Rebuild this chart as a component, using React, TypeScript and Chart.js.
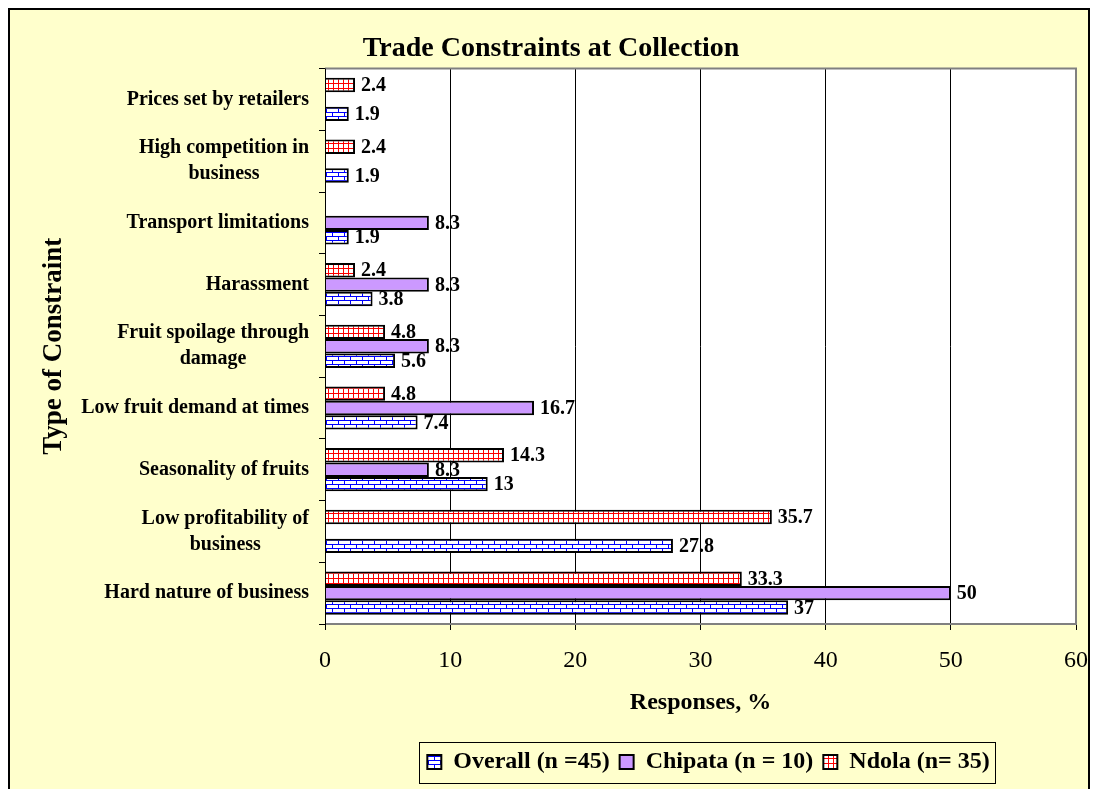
import React, { useEffect, useRef } from 'react';
import { Chart, registerables } from 'chart.js';

Chart.register(...registerables);

const TITLE = 'Trade Constraints at Collection';
const X_TITLE = 'Responses, %';
const Y_TITLE = 'Type of Constraint';

const categories: string[][] = [
  ['Prices set by retailers'],
  ['High competition in', 'business'],
  ['Transport limitations'],
  ['Harassment'],
  ['Fruit spoilage through', 'damage'],
  ['Low fruit demand at times'],
  ['Seasonality of fruits'],
  ['Low profitability of', 'business'],
  ['Hard nature of business'],
];

const overallValues = [1.9, 1.9, 1.9, 3.8, 5.6, 7.4, 13, 27.8, 37];
const chipataValues = [null, null, 8.3, 8.3, 8.3, 16.7, 8.3, null, 50];
const ndolaValues = [2.4, 2.4, null, 2.4, 4.8, 4.8, 14.3, 35.7, 33.3];

const seriesNames = ['Ndola (n= 35)', 'Chipata (n = 10)', 'Overall (n =45)'];

const X_MIN = 0;
const X_MAX = 60;
const X_STEP = 10;

const FONT = "'Liberation Serif', 'Times New Roman', serif";

function makePattern(kind: 'grid' | 'brick'): CanvasPattern | string {
  const c = document.createElement('canvas');
  const g = c.getContext('2d');
  if (!g) return '#fff';
  if (kind === 'grid') {
    c.width = 5;
    c.height = 5;
    g.fillStyle = '#ffffff';
    g.fillRect(0, 0, 5, 5);
    g.fillStyle = '#ff0000';
    g.fillRect(0, 0, 5, 1);
    g.fillRect(0, 0, 1, 5);
  } else {
    c.width = 12;
    c.height = 8;
    g.fillStyle = '#ffffff';
    g.fillRect(0, 0, 12, 8);
    g.fillStyle = '#0000ff';
    g.fillRect(0, 0, 12, 1);
    g.fillRect(0, 4, 12, 1);
    g.fillRect(0, 0, 1, 4);
    g.fillRect(6, 4, 1, 4);
  }
  const p = g.createPattern(c, 'repeat');
  return p || '#fff';
}

const framePlugin = {
  id: 'framePlugin',
  afterLayout(chart: any) {
    const lg = chart.legend;
    if (lg) {
      lg.left += 8;
      lg.right += 8;
    }
    const tb = chart.titleBlock;
    if (tb) {
      tb.left += 9;
      tb.right += 9;
    }
  },
  beforeDraw(chart: any) {
    const { ctx, width, height, chartArea } = chart;
    ctx.save();
    ctx.fillStyle = '#FFFFCC';
    ctx.fillRect(0, 0, width, height);
    ctx.strokeStyle = '#000';
    ctx.lineWidth = 2;
    ctx.beginPath();
    ctx.moveTo(1, height + 2);
    ctx.lineTo(1, 1);
    ctx.lineTo(width - 1, 1);
    ctx.lineTo(width - 1, height + 2);
    ctx.stroke();
    ctx.fillStyle = '#ffffff';
    ctx.fillRect(chartArea.left, chartArea.top, chartArea.right - chartArea.left, chartArea.bottom - chartArea.top);
    ctx.restore();
  },
  afterDatasetsDraw(chart: any) {
    const { ctx } = chart;
    ctx.save();
    ctx.font = `bold 20px ${FONT}`;
    ctx.fillStyle = '#000';
    ctx.textAlign = 'left';
    ctx.textBaseline = 'middle';
    chart.data.datasets.forEach((ds: any, di: number) => {
      const meta = chart.getDatasetMeta(di);
      meta.data.forEach((el: any, i: number) => {
        const v = ds.data[i];
        if (v === null || v === undefined) return;
        ctx.fillText(String(v), el.x + 6, el.y + 1);
      });
    });
    ctx.restore();
  },
  afterDraw(chart: any) {
    const { ctx, chartArea } = chart;
    ctx.save();
    // plot border
    ctx.strokeStyle = '#808080';
    ctx.lineWidth = 2;
    ctx.beginPath();
    ctx.moveTo(chartArea.left, chartArea.top);
    ctx.lineTo(chartArea.right, chartArea.top);
    ctx.lineTo(chartArea.right, chartArea.bottom);
    ctx.lineTo(chartArea.left, chartArea.bottom);
    ctx.stroke();
    ctx.strokeStyle = '#000';
    ctx.lineWidth = 1;
    ctx.beginPath();
    ctx.moveTo(chartArea.left + 0.5, chartArea.top);
    ctx.lineTo(chartArea.left + 0.5, chartArea.bottom + 1);
    ctx.stroke();

    // y tick labels: block right-aligned, lines centered
    const yScale = chart.scales.y;
    ctx.font = `bold 20px ${FONT}`;
    ctx.fillStyle = '#000';
    ctx.textBaseline = 'middle';
    ctx.textAlign = 'center';
    const rightEdge = chartArea.left - 16;
    const lh = 26;
    categories.forEach((lines, i) => {
      const cy = yScale.getPixelForValue(i);
      const w = Math.max(...lines.map((l) => ctx.measureText(l).width));
      const cx = rightEdge - w / 2;
      lines.forEach((l, j) => {
        ctx.fillText(l, cx, cy + (j - (lines.length - 1) / 2) * lh);
      });
    });

    // legend frame
    const legend = chart.legend;
    if (legend && legend.legendHitBoxes && legend.legendHitBoxes.length) {
      const hb = legend.legendHitBoxes;
      const l = Math.min(...hb.map((h: any) => h.left)) - 8;
      const r = Math.max(...hb.map((h: any) => h.left + h.width)) + 6;
      const cy = hb[0].top + hb[0].height / 2;
      ctx.strokeStyle = '#000';
      ctx.lineWidth = 1;
      ctx.strokeRect(Math.round(l) + 0.5, Math.round(cy - 20) + 0.5, Math.round(r - l), 41);
    }
    ctx.restore();
  },
};

export default function App() {
  const ref = useRef<HTMLCanvasElement | null>(null);

  useEffect(() => {
    document.body.style.margin = '0';
    document.body.style.overflow = 'hidden';
    const canvas = ref.current;
    if (!canvas) return;
    const redGrid = makePattern('grid');
    const blueBrick = makePattern('brick');

    const chart = new Chart(canvas, {
      type: 'bar',
      data: {
        labels: categories,
        datasets: [
          {
            label: seriesNames[0],
            data: ndolaValues,
            backgroundColor: redGrid as any,
            borderColor: '#000',
            borderWidth: 2,
          },
          {
            label: seriesNames[1],
            data: chipataValues,
            backgroundColor: '#CC99FF',
            borderColor: '#000',
            borderWidth: 2,
          },
          {
            label: seriesNames[2],
            data: overallValues,
            backgroundColor: blueBrick as any,
            borderColor: '#000',
            borderWidth: 2,
          },
        ],
      },
      options: {
        indexAxis: 'y',
        animation: false,
        responsive: true,
        maintainAspectRatio: false,
        datasets: {
          bar: {
            categoryPercentage: 0.7,
            barPercentage: 1.0,
          },
        },
        layout: {
          padding: { left: 0, right: 14, top: 0, bottom: 5 },
        },
        plugins: {
          title: {
            display: true,
            text: TITLE,
            color: '#000',
            font: { family: FONT, size: 28, weight: 'bold' },
            padding: { top: 24, bottom: 3 },
          },
          legend: {
            display: true,
            position: 'bottom',
            fullSize: false,
            reverse: true,
            labels: {
              color: '#000',
              font: { family: FONT, size: 24, weight: 'bold' },
              boxWidth: 14,
              boxHeight: 14,
              padding: 10,
            },
          },
          tooltip: { enabled: false },
        },
        scales: {
          x: {
            type: 'linear',
            min: X_MIN,
            max: X_MAX,
            ticks: {
              stepSize: X_STEP,
              color: '#000',
              font: { family: FONT, size: 24 },
              padding: 16,
            },
            grid: {
              color: '#000',
              lineWidth: 1,
              drawTicks: true,
              tickLength: 6,
              tickColor: '#000',
            },
            border: { display: true, color: '#000', width: 1 },
            title: {
              display: true,
              text: X_TITLE,
              color: '#000',
              font: { family: FONT, size: 24, weight: 'bold' },
              padding: { top: 0, bottom: 23 },
            },
            afterFit(scale: any) {
              scale.height = 116;
              scale.paddingRight = 0;
              scale.paddingLeft = 0;
            },
          },
          y: {
            type: 'category',
            ticks: {
              color: 'rgba(0,0,0,0)',
              font: { family: FONT, size: 20, weight: 'bold' },
            },
            grid: {
              drawOnChartArea: false,
              drawTicks: true,
              tickLength: 6,
              color: '#000',
              offset: true,
            },
            border: { display: true, color: '#000', width: 1 },
            title: {
              display: true,
              text: Y_TITLE,
              color: '#000',
              font: { family: FONT, size: 27, weight: 'bold' },
              padding: { top: 30, bottom: 0 },
            },
            afterFit(scale: any) {
              scale.width = 317;
            },
          },
        },
      },
      plugins: [framePlugin],
    });

    return () => {
      chart.destroy();
    };
  }, []);

  return (
    <div style={{ position: 'relative', width: '1082px', height: '781px', marginLeft: '8px', marginTop: '8px' }}>
      <canvas ref={ref} />
    </div>
  );
}
